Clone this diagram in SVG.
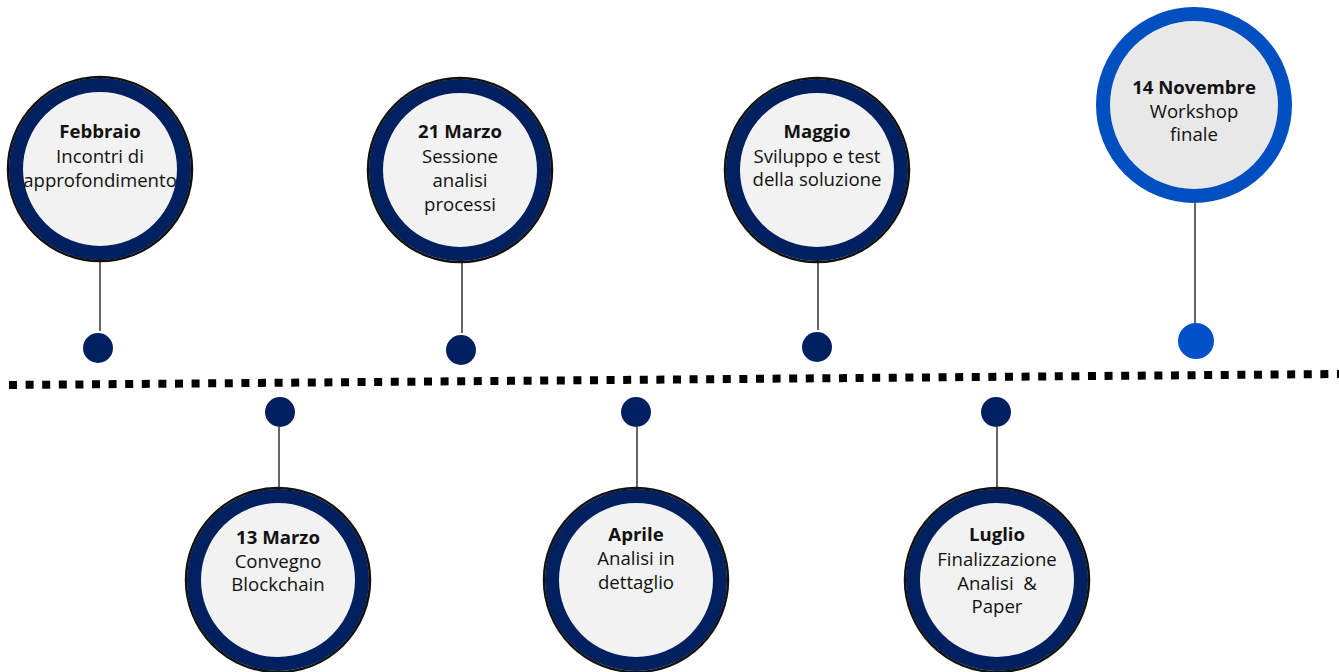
<svg xmlns="http://www.w3.org/2000/svg" width="1339" height="672" viewBox="0 0 1339 672">
<style>
.ring{fill:#f2f2f2;stroke:#002060;stroke-width:14}
.outline{fill:none;stroke:#111;stroke-width:2.5}
.ringb{fill:#e8e8e8;stroke:#004fc0;stroke-width:14}
.dot{fill:#002060}
.dotb{fill:#0050c8}
.conn{stroke:#333;stroke-width:1.5;fill:none}
text{font-family:"Open Sans","Noto Sans",sans-serif;font-size:18.6px;fill:#111;text-anchor:middle}
.t{font-weight:bold}
</style>
<rect width="1339" height="672" fill="#fff"/>
<g id="timeline">
<line x1="9" y1="385" x2="1339" y2="374" stroke="#000" stroke-width="8" stroke-dasharray="8 8.6"/>
</g>
<g id="connectors">
<line class="conn" x1="100" y1="262" x2="100" y2="331"/>
<line class="conn" x1="462" y1="262" x2="462" y2="333"/>
<line class="conn" x1="818" y1="262" x2="818" y2="330"/>
<line class="conn" x1="1195" y1="203" x2="1195" y2="323"/>
<line class="conn" x1="279" y1="427" x2="279" y2="488"/>
<line class="conn" x1="637" y1="427" x2="637" y2="488"/>
<line class="conn" x1="997" y1="427" x2="997" y2="488"/>
</g>
<g id="dots">
<circle class="dot" cx="98" cy="348" r="15"/>
<circle class="dot" cx="461" cy="350" r="15"/>
<circle class="dot" cx="817" cy="347" r="15"/>
<circle class="dotb" cx="1196" cy="341" r="18"/>
<circle class="dot" cx="280" cy="412" r="15"/>
<circle class="dot" cx="636" cy="412" r="15"/>
<circle class="dot" cx="996" cy="412" r="15"/>
</g>
<g id="febbraio">
<circle class="ring" cx="100" cy="169" r="84"/>
<circle class="outline" cx="100" cy="169" r="92"/>
<text x="100" y="138" class="t">Febbraio</text>
<text x="100" y="163">Incontri di</text>
<text x="100" y="187">approfondimento</text>
</g>
<g id="marzo21">
<circle class="ring" cx="460" cy="170" r="84"/>
<circle class="outline" cx="460" cy="170" r="92"/>
<text x="460" y="138" class="t">21 Marzo</text>
<text x="460" y="163">Sessione</text>
<text x="460" y="187">analisi</text>
<text x="460" y="211">processi</text>
</g>
<g id="maggio">
<circle class="ring" cx="817" cy="170" r="84"/>
<circle class="outline" cx="817" cy="170" r="92"/>
<text x="817" y="138" class="t">Maggio</text>
<text x="817" y="163">Sviluppo e test</text>
<text x="817" y="186">della soluzione</text>
</g>
<g id="novembre">
<circle class="ringb" cx="1194" cy="105" r="91"/>
<text x="1194" y="94" class="t">14 Novembre</text>
<text x="1194" y="118">Workshop</text>
<text x="1194" y="141">finale</text>
</g>
<g id="marzo13">
<circle class="ring" cx="278" cy="580" r="84"/>
<circle class="outline" cx="278" cy="580" r="92"/>
<text x="278" y="544" class="t">13 Marzo</text>
<text x="278" y="568">Convegno</text>
<text x="278" y="591">Blockchain</text>
</g>
<g id="aprile">
<circle class="ring" cx="636" cy="580" r="84"/>
<circle class="outline" cx="636" cy="580" r="92"/>
<text x="636" y="541" class="t">Aprile</text>
<text x="636" y="565">Analisi in</text>
<text x="636" y="589">dettaglio</text>
</g>
<g id="luglio">
<circle class="ring" cx="997" cy="580" r="84"/>
<circle class="outline" cx="997" cy="580" r="92"/>
<text x="997" y="541" class="t">Luglio</text>
<text x="997" y="566">Finalizzazione</text>
<text x="997" y="590" xml:space="preserve">Analisi  &amp;</text>
<text x="997" y="613">Paper</text>
</g>
</svg>
